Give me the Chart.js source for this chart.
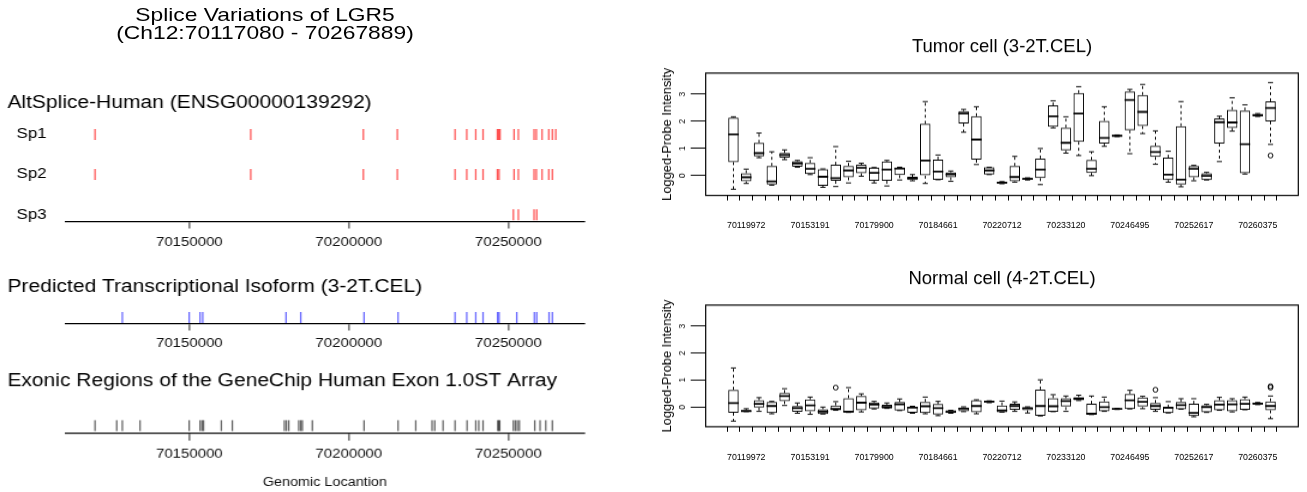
<!DOCTYPE html>
<html>
<head>
<meta charset="utf-8">
<script src="https://cdn.jsdelivr.net/npm/chart.js@4.4.1/dist/chart.umd.min.js"></script>
<style>
  html, body { margin: 0; padding: 0; background: #fff; }
  body { width: 1307px; height: 492px; position: relative; overflow: hidden; font-family: "Liberation Sans", Arial, sans-serif; }
  #left { position: absolute; left: 0; top: 0; width: 500px; height: 492px; transform: scaleX(1.2); transform-origin: 0 0; }
  .box { position: absolute; }
  #mainTitle { position: absolute; left: 0; top: 6.3px; width: 441.7px; text-align: center; font-size: 19px; line-height: 17.6px; color: #000; }
</style>
</head>
<body>
<div id="left">
  <div id="mainTitle">Splice Variations of LGR5<br>(Ch12:70117080 - 70267889)</div>
  <div class="box" style="left:0; top:89.7px; width:500px; height:161.6px"><canvas id="spChart"></canvas></div>
  <div class="box" style="left:0; top:276.8px; width:500px; height:76.5px"><canvas id="isoChart"></canvas></div>
  <div class="box" style="left:0; top:371.2px; width:500px; height:117.5px"><canvas id="exonChart"></canvas></div>
</div>
<div class="box" style="left:640px; top:36.4px; width:667px; height:198.6px"><canvas id="tumorChart"></canvas></div>
<div class="box" style="left:640px; top:268.1px; width:667px; height:197.9px"><canvas id="normalChart"></canvas></div>

<script>
// genomic axis
const genomeRange = [70111048, 70273921];
const positionTicks = [70150000, 70200000, 70250000];

// AltSplice transcripts
const spliceRows = ['Sp1', 'Sp2', 'Sp3'];
const sp1Exons = [70120439, 70169248, 70204545, 70215204, 70233292, 70236959, 70239781, 70242069, 70246552, 70246991,
  70247398, 70251787, 70253135, 70258056, 70258777, 70260564, 70262665, 70263793, 70264859];
const sp2Exons = [70120439, 70169248, 70204545, 70215204, 70233292, 70236959, 70239781, 70242069, 70246552, 70247085,
  70251787, 70253135, 70258056, 70258777, 70260564, 70262665, 70263793];
const sp3Exons = [70251567, 70253135, 70258056, 70258903];

// predicted isoform and array exons
const isoformExons = [70128997, 70149950, 70153354, 70154201, 70180313, 70184922, 70204765, 70215423, 70233292, 70236959,
  70239781, 70242069, 70246614, 70247085, 70252633, 70258150, 70258903, 70262759, 70263793];
const arrayExons = [70120439, 70127241, 70128997, 70134545, 70149950, 70153354, 70153981, 70154451, 70160031, 70163480,
  70179781, 70180408, 70181160, 70184295, 70184922, 70185423, 70188558, 70204765, 70215423, 70220972,
  70226082, 70226928, 70229530, 70233292, 70237053, 70239781, 70240721, 70242069, 70246677, 70246991,
  70247304, 70251567, 70252194, 70252821, 70253448, 70258276, 70259937, 70261724, 70263793];

// probe boxes (43), only every fifth label is printed
const probeLabels = ['', '70119972', '', '', '', '', '70153191', '', '', '', '', '70179900', '', '', '', '',
  '70184661', '', '', '', '', '70220712', '', '', '', '', '70233120', '', '', '', '', '70246495', '', '', '', '',
  '70252617', '', '', '', '', '70260375', ''];

const tumorLow  = [-0.50, -0.29, 0.66, -0.35, 0.59, 0.31, 0.04, -0.43, -0.40, -0.27, -0.02, -0.27, -0.38, -0.16, -0.19, -0.29, -0.15, -0.21, 1.60, 0.41, 0.04, -0.30, -0.24, -0.16, -0.33, 1.76, 0.83, 0.74, 0.00, 1.08, 1.44, 0.81, 1.55, 0.42, -0.24, -0.41, -0.19, -0.16, 0.52, 1.64, 0.06, 2.18, 1.15];
const tumorQ1   = [0.50, -0.21, 0.71, -0.33, 0.66, 0.33, 0.06, -0.37, -0.19, -0.06, 0.09, -0.19, -0.19, 0.02, -0.16, 0.00, -0.15, -0.06, 1.92, 0.59, 0.04, -0.29, -0.21, -0.15, -0.09, 1.80, 0.93, 1.25, 0.10, 1.18, 1.45, 1.67, 1.83, 0.69, -0.16, -0.33, -0.06, -0.16, 1.18, 1.76, 0.09, 2.19, 2.00];
const tumorMed  = [1.52, -0.06, 0.83, -0.21, 0.76, 0.45, 0.25, -0.04, -0.09, 0.19, 0.29, 0.10, 0.22, 0.26, -0.09, 0.56, 0.15, 0.05, 2.29, 1.33, 0.19, -0.26, -0.05, -0.12, 0.22, 2.19, 1.21, 2.29, 0.25, 1.39, 1.47, 2.79, 2.35, 0.87, 0.04, -0.15, 0.25, -0.01, 1.97, 1.96, 1.16, 2.23, 2.49];
const tumorQ3   = [2.14, 0.09, 1.21, 0.36, 0.84, 0.53, 0.47, 0.24, 0.40, 0.36, 0.40, 0.29, 0.52, 0.29, -0.04, 1.91, 0.59, 0.12, 2.38, 2.19, 0.31, -0.23, 0.36, -0.09, 0.63, 2.59, 1.77, 3.04, 0.58, 2.02, 1.49, 3.10, 2.97, 1.10, 0.66, 1.82, 0.36, 0.09, 2.11, 2.42, 2.40, 2.27, 2.74];
const tumorHigh = [2.17, 0.24, 1.57, 0.88, 0.95, 0.56, 0.66, 0.25, 1.07, 0.53, 0.46, 0.30, 0.56, 0.31, 0.04, 2.73, 0.76, 0.17, 2.44, 2.54, 0.31, -0.22, 0.71, -0.08, 1.00, 2.76, 2.17, 3.28, 0.88, 2.54, 1.50, 3.18, 3.36, 1.65, 0.90, 2.73, 0.38, 0.12, 2.19, 2.87, 2.61, 2.29, 3.43];
const tumorOutliers = [[42, 0.74]];

const normalLow  = [-0.52, -0.17, -0.16, -0.25, 0.06, -0.23, -0.27, -0.26, -0.12, -0.20, -0.18, -0.07, -0.05, -0.13, -0.23, -0.25, -0.32, -0.23, -0.17, -0.25, 0.16, -0.19, -0.16, -0.22, -0.33, -0.17, -0.16, 0.24, -0.28, -0.16, -0.09, -0.07, -0.06, -0.16, -0.22, -0.08, -0.36, -0.20, -0.12, -0.18, -0.10, 0.09, -0.43];
const normalQ1   = [-0.21, -0.17, -0.02, -0.22, 0.22, -0.17, -0.16, -0.26, -0.12, -0.20, -0.12, -0.05, -0.05, -0.13, -0.21, -0.22, -0.28, -0.22, -0.16, -0.19, 0.17, -0.19, -0.10, -0.12, -0.32, -0.17, 0.00, 0.25, -0.28, -0.16, -0.09, -0.07, 0.00, -0.10, -0.22, -0.08, -0.33, -0.19, -0.12, -0.16, -0.10, 0.10, -0.12];
const normalMed  = [0.15, -0.15, 0.12, 0.04, 0.41, -0.04, 0.06, -0.17, -0.07, -0.17, 0.16, 0.09, 0.01, 0.10, -0.02, 0.03, -0.04, -0.18, -0.06, 0.04, 0.20, -0.12, 0.04, -0.04, 0.04, 0.03, 0.22, 0.31, -0.25, 0.00, -0.07, 0.25, 0.19, 0.04, -0.02, 0.07, -0.22, 0.00, 0.09, 0.10, 0.12, 0.13, 0.04];
const normalQ3   = [0.64, -0.11, 0.25, 0.19, 0.52, 0.04, 0.28, -0.08, 0.06, 0.33, 0.41, 0.17, 0.09, 0.19, 0.01, 0.19, 0.11, -0.12, 0.00, 0.25, 0.22, 0.06, 0.12, 0.00, 0.65, 0.33, 0.33, 0.37, 0.12, 0.21, -0.05, 0.49, 0.36, 0.15, -0.02, 0.19, 0.12, 0.07, 0.25, 0.25, 0.29, 0.16, 0.21];
const normalHigh = [1.45, -0.06, 0.35, 0.21, 0.68, 0.15, 0.37, 0.00, 0.20, 0.72, 0.49, 0.21, 0.15, 0.30, 0.03, 0.37, 0.21, -0.12, 0.01, 0.27, 0.23, 0.22, 0.19, 0.01, 1.01, 0.46, 0.41, 0.44, 0.41, 0.37, -0.05, 0.62, 0.40, 0.35, 0.20, 0.31, 0.31, 0.10, 0.36, 0.31, 0.37, 0.17, 0.41];
const normalOutliers = [[8, 0.72], [33, 0.64], [42, 0.77], [42, 0.72]];

Chart.defaults.font.family = "'Liberation Sans', Arial, Helvetica, sans-serif";
Chart.defaults.color = '#000';

// ---------- left: exon tracks ----------
function positionAxis(height, title) {
    return {
        type: 'linear',
        min: genomeRange[0],
        max: genomeRange[1],
        afterBuildTicks: s => { s.ticks = positionTicks.map(v => ({ value: v })); },
        afterFit: s => { s.height = height; },
        border: { display: true, color: '#000', width: 1.2 },
        grid: { display: true, drawOnChartArea: false, tickLength: 7, color: '#777', lineWidth: 1.6 },
        ticks: { padding: 6, autoSkip: false, maxRotation: 0, font: { size: 12.5 }, color: '#111', callback: v => String(v) },
        title: title ? { display: true, text: title, font: { size: 12 }, color: '#111', padding: 0 } : { display: false }
    };
}

function marks(values, row, color, radius) {
    return {
        data: values.map(v => ({ x: v, y: row })),
        pointStyle: 'line',
        pointRotation: 90,
        pointRadius: radius,
        pointHoverRadius: radius,
        pointBorderWidth: 1.25,
        pointBorderColor: color,
        pointBackgroundColor: color
    };
}

function trackChart(id, label, datasets, yMax, yMin, axisHeight, axisTitle, yTicks) {
    new Chart(document.getElementById(id), {
        type: 'scatter',
        data: { datasets: datasets },
        options: {
            responsive: true,
            maintainAspectRatio: false,
            animation: false,
            events: [],
            layout: { padding: { left: 6.2, right: 12.8, top: 0, bottom: 0 } },
            plugins: {
                legend: { display: false },
                tooltip: { enabled: false },
                title: { display: true, text: label, align: 'start', color: '#000', font: { size: 17.5, weight: 'normal' }, padding: 0 }
            },
            scales: {
                x: positionAxis(axisHeight, axisTitle),
                y: {
                    min: yMin,
                    max: yMax,
                    afterFit: s => { s.width = 48; },
                    border: { display: false },
                    grid: { display: false, drawTicks: false },
                    ticks: yTicks || { display: false }
                }
            }
        }
    });
}

trackChart('spChart', 'AltSplice-Human (ENSG00000139292)',
    [sp1Exons, sp2Exons, sp3Exons].map((arr, r) => marks(arr, spliceRows.length - r, 'rgba(255,0,0,0.68)', 5.5)),
    3.512, 0.828, 30, null,
    { stepSize: 1, includeBounds: false, padding: 15.5, font: { size: 14 }, color: '#000',
      callback: v => spliceRows[spliceRows.length - v] });

trackChart('isoChart', 'Predicted Transcriptional Isoform (3-2T.CEL)',
    [marks(isoformExons, 1, 'rgba(0,0,255,0.6)', 5.5)], 4.18, 0, 30, null);

trackChart('exonChart', 'Exonic Regions of the GeneChip Human Exon 1.0ST Array',
    [marks(arrayExons, 1, 'rgba(0,0,0,0.62)', 5.35)], 5.14, 0, 55.4, 'Genomic Locantion');

// ---------- right: box plots ----------
const framePlugin = {
    id: 'frame',
    afterDraw(chart) {
        const { ctx, chartArea: a } = chart;
        ctx.save();
        ctx.strokeStyle = '#000';
        ctx.lineWidth = 1.2;
        ctx.strokeRect(a.left, a.top, a.right - a.left, a.bottom - a.top);
        ctx.restore();
    }
};

function boxDatasets(low, q1, med, q3, high, outliers) {
    const idx = q1.map((_, i) => i);
    const whiskers = [];
    idx.forEach(i => {
        whiskers.push({ x: i, y: q3[i] }, { x: i, y: high[i] }, { x: i, y: null },
                      { x: i, y: q1[i] }, { x: i, y: low[i] }, { x: i, y: null });
    });
    return [
        {
            type: 'bar',
            data: idx.map(i => ({ x: i, y: [q1[i], q3[i]] })),
            backgroundColor: 'rgba(0,0,0,0)',
            borderColor: '#000',
            borderWidth: 1,
            borderSkipped: false,
            barPercentage: 0.82,
            categoryPercentage: 1,
            order: 2
        },
        {
            type: 'line',
            data: whiskers,
            borderColor: '#000',
            borderWidth: 1,
            borderDash: [3, 3],
            pointRadius: 0,
            spanGaps: false,
            fill: false,
            order: 3
        },
        {
            type: 'scatter',
            data: idx.flatMap(i => [{ x: i, y: high[i] }, { x: i, y: low[i] }]),
            pointStyle: 'line',
            pointRadius: 2.6,
            pointHoverRadius: 2.6,
            pointBorderColor: '#000',
            pointBorderWidth: 1,
            order: 1
        },
        {
            type: 'scatter',
            data: idx.map(i => ({ x: i, y: med[i] })),
            pointStyle: 'line',
            pointRadius: 5.2,
            pointHoverRadius: 5.2,
            pointBorderColor: '#000',
            pointBorderWidth: 1.8,
            order: 0
        },
        {
            type: 'scatter',
            data: outliers.map(([i, v]) => ({ x: i, y: v })),
            pointStyle: 'circle',
            pointRadius: 2.4,
            pointHoverRadius: 2.4,
            pointBorderColor: '#000',
            pointBackgroundColor: 'rgba(0,0,0,0)',
            pointBorderWidth: 1,
            order: 0
        }
    ];
}

function boxChart(id, title, low, q1, med, q3, high, outliers) {
    new Chart(document.getElementById(id), {
        type: 'bar',
        data: { datasets: boxDatasets(low, q1, med, q3, high, outliers) },
        options: {
            responsive: true,
            maintainAspectRatio: false,
            animation: false,
            events: [],
            layout: { padding: { left: 0, right: 8.7, top: 0, bottom: 0 } },
            plugins: {
                legend: { display: false },
                tooltip: { enabled: false },
                title: { display: true, text: title, fullSize: false, color: '#000', font: { size: 18.5, weight: 'normal' }, padding: { top: 0, bottom: 14.7 } }
            },
            scales: {
                x: {
                    type: 'linear',
                    min: -2.17,
                    max: 44.17,
                    offset: false,
                    afterBuildTicks: s => { s.ticks = probeLabels.map((_, i) => ({ value: i })); },
                    afterFit: s => { s.height = 40; },
                    border: { display: false },
                    grid: { display: true, drawOnChartArea: false, tickLength: 5, color: '#000', lineWidth: 1 },
                    ticks: { autoSkip: false, maxRotation: 0, minRotation: 0, padding: 20, font: { size: 8.8 }, color: '#000',
                             callback: v => probeLabels[v] || '' }
                },
                y: {
                    min: -0.73,
                    max: 3.78,
                    afterFit: s => { s.width = 65.7; },
                    border: { display: false },
                    grid: { display: true, drawOnChartArea: false, tickLength: 15, color: '#000', lineWidth: 1 },
                    ticks: { stepSize: 1, includeBounds: false, minRotation: 90, maxRotation: 90, crossAlign: 'center',
                             padding: 6, font: { size: 8.5 }, color: '#000' },
                    title: { display: true, text: 'Logged-Probe Intensity', color: '#000', font: { size: 12.8 }, padding: { top: 20, bottom: 0 } }
                }
            }
        },
        plugins: [framePlugin]
    });
}

boxChart('tumorChart', 'Tumor cell (3-2T.CEL)', tumorLow, tumorQ1, tumorMed, tumorQ3, tumorHigh, tumorOutliers);
boxChart('normalChart', 'Normal cell (4-2T.CEL)', normalLow, normalQ1, normalMed, normalQ3, normalHigh, normalOutliers);
</script>
</body>
</html>
